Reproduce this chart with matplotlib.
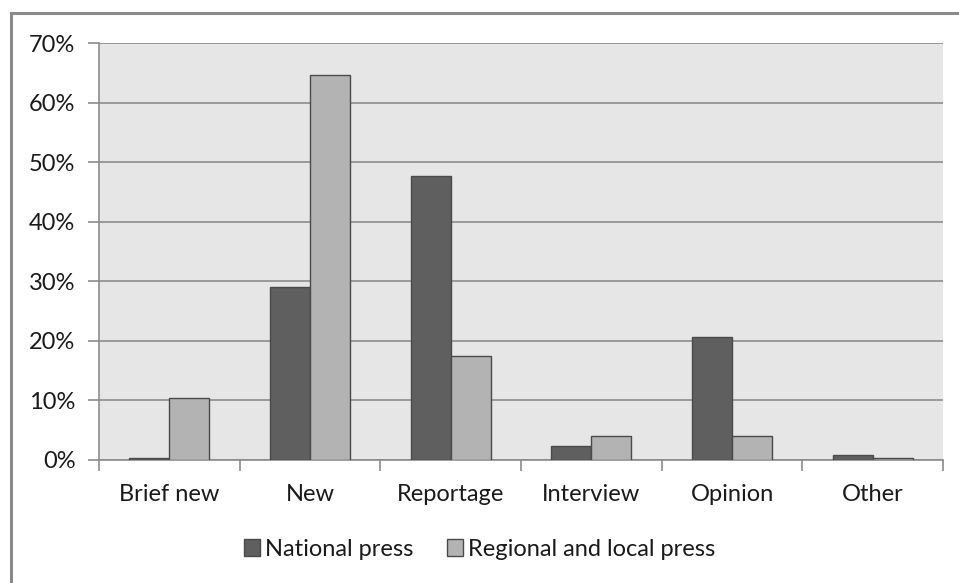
import matplotlib
matplotlib.use("Agg")
import matplotlib.pyplot as plt
import numpy as np
from matplotlib.lines import Line2D
from matplotlib.patches import Patch
from matplotlib.ticker import MultipleLocator, FuncFormatter

categories = ["Brief new", "New", "Reportage", "Interview", "Opinion", "Other"]
national = [0.3, 29.0, 47.7, 2.3, 20.6, 0.8]
regional = [10.4, 64.6, 17.4, 4.0, 4.0, 0.3]
series_names = ["National press", "Regional and local press"]

plt.rcParams["font.family"] = ["Lato", "DejaVu Sans"]

W, H = 959, 583
fig = plt.figure(figsize=(W / 100, H / 100), dpi=100)
fig.patch.set_facecolor("white")

ax = fig.add_axes([99 / W, 1 - 460 / H, (943 - 99) / W, (460 - 43) / H])
ax.set_facecolor("#e6e6e6")

x = np.arange(len(categories))
bw = 0.285
edge = "#4a4a4a"
ax.bar(x - bw / 2, national, bw, color="#5f5f5f", edgecolor=edge, linewidth=1.0, zorder=3)
ax.bar(x + bw / 2, regional, bw, color="#b3b3b3", edgecolor=edge, linewidth=1.0, zorder=3)

ax.set_xlim(-0.5, len(categories) - 0.5)
ax.set_ylim(0, 70)
ax.yaxis.set_major_locator(MultipleLocator(10))
ax.yaxis.set_major_formatter(FuncFormatter(lambda v, p: f"{v:.0f}%"))
ax.grid(axis="y", color="#8c8c8c", linewidth=1.2, zorder=1)

# category ticks sit between the groups
ax.set_xticks(np.arange(-0.5, len(categories), 1.0))
ax.set_xticklabels([])
ax.set_xticks(x, minor=True)
ax.set_xticklabels(categories, minor=True)
ax.tick_params(axis="x", which="major", length=8, width=1.2, color="#8c8c8c", direction="out")
ax.tick_params(axis="x", which="minor", length=0, pad=17, labelsize=17, labelcolor="#1a1a1a")
ax.tick_params(axis="y", length=8, width=1.2, color="#8c8c8c", direction="out", pad=9,
               labelsize=17, labelcolor="#1a1a1a")

for side in ("top", "right"):
    ax.spines[side].set_visible(False)
for side in ("left", "bottom"):
    ax.spines[side].set_color("#8c8c8c")
    ax.spines[side].set_linewidth(1.2)

handles = [Patch(facecolor="#5f5f5f", edgecolor=edge), Patch(facecolor="#b3b3b3", edgecolor=edge)]
fig.legend(handles, series_names, loc="center", bbox_to_anchor=(0.5, 1 - 549 / H), ncol=2,
           frameon=False, fontsize=17, handlelength=0.7, handleheight=0.7, handletextpad=0.2,
           columnspacing=1.4, labelcolor="#1a1a1a")

# chart-area border (top and left edges)
fig.add_artist(Line2D([11 / W, 1.0], [1 - 13 / H, 1 - 13 / H], color="#8a8a8a", linewidth=2.2))
fig.add_artist(Line2D([11 / W, 11 / W], [0.0, 1 - 13 / H], color="#8a8a8a", linewidth=2.2))

fig.savefig("out.png", dpi=100)
